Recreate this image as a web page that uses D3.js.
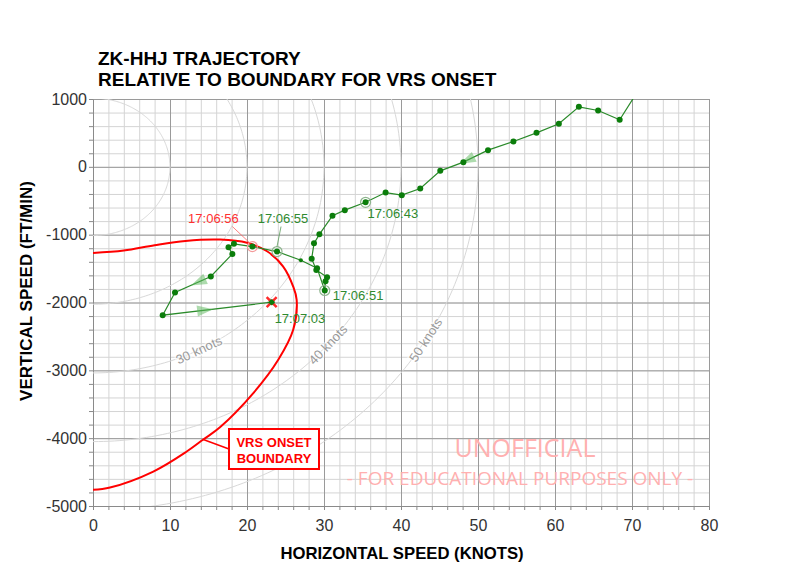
<!DOCTYPE html>
<html>
<head>
<meta charset="utf-8">
<script src="https://cdn.jsdelivr.net/npm/d3@7"></script>
<style>
    body { margin: 0; background: #fff; }
    svg { display: block; font-family: "Liberation Sans", Arial, sans-serif; }
    .grid-minor line { stroke: #d4d4d4; }
    .grid-major line { stroke: #9a9a9a; }
    .grid-minor path, .grid-major path { display: none; }
    .axis path, .axis line { stroke: #8a8a8a; }
    .axis text { fill: #333; font-size: 16px; }
</style>
</head>
<body>
<svg id="chart" width="800" height="574"></svg>
<script>
// horizontal speed (knots) and vertical speed (ft/min), in time order
var trajKts = [71.5, 68.4, 65.6, 63.1, 60.5, 57.6, 54.6, 51.3, 48.1, 45.1, 42.5, 40.1, 38.0, 35.4,
    32.7, 31.1, 29.4, 28.7, 28.4, 29.0, 30.4, 30.2, 30.1, 29.1, 27.0, 23.9, 20.7, 18.3, 17.6,
    18.1, 15.3, 10.65, 9.05, 23.2];
var trajFpm = [1250, 693, 830, 885, 634, 501, 374, 246, 69, -59, -320, -418, -379, -523,
    -639, -720, -995, -1128, -1355, -1520, -1627, -1688, -1823, -1494, -1378, -1249, -1175, -1135, -1187,
    -1285, -1617, -1853, -2187, -1995];
var smallPoints = [24];

var timeLabels = ['17:06:43', '17:06:51', '17:06:55', '17:06:56', '17:07:03'];
var timeIndex = [13, 22, 25, 26, 33];

// direction arrows: segment start index and fraction along it
var arrowSeg = [7, 30, 32];
var arrowFrac = [0.85, 0.35, 0.39];

// VRS onset boundary
var vrsKts = [0, 4, 8, 12, 16.5, 20, 22.6, 24.7, 26, 26.45, 26.0, 24.06, 20.82, 16.49, 14.32, 12.17, 7.83, 2.21, 0];
var vrsFpm = [-1270, -1235, -1155, -1092, -1073, -1120, -1245, -1470, -1765, -1961, -2403, -2845, -3336,
    -3840, -4020, -4197, -4492, -4728, -4762];

// total airspeed circles
var circleKts = [10, 20, 30, 40, 50];
var circleLabelFpm = [null, null, -2700, -2620, -2550];

var xTicks = [0, 10, 20, 30, 40, 50, 60, 70, 80];
var yTicks = [1000, 0, -1000, -2000, -3000, -4000, -5000];

var FPM_PER_KT = 101.27;

var svg = d3.select('#chart');
var x = d3.scaleLinear().domain([0, 80]).range([93, 709]);
var y = d3.scaleLinear().domain([-5000, 1000]).range([506, 99]);
var plotH = 506 - 99, plotW = 709 - 93;

svg.append('defs').append('clipPath').attr('id', 'plot')
    .append('rect').attr('x', 93).attr('y', 99).attr('width', plotW).attr('height', plotH);

// grid
svg.append('g').attr('class', 'grid-minor').attr('transform', 'translate(0,506)')
    .call(d3.axisBottom(x).tickValues(d3.range(0, 81, 2)).tickSize(-plotH).tickFormat(''));
svg.append('g').attr('class', 'grid-minor').attr('transform', 'translate(93,0)')
    .call(d3.axisLeft(y).tickValues(d3.range(-5000, 1001, 200)).tickSize(-plotW).tickFormat(''));
svg.append('g').attr('class', 'grid-major').attr('transform', 'translate(0,506)')
    .call(d3.axisBottom(x).tickValues(xTicks).tickSize(-plotH).tickFormat(''));
svg.append('g').attr('class', 'grid-major').attr('transform', 'translate(93,0)')
    .call(d3.axisLeft(y).tickValues(yTicks).tickSize(-plotW).tickFormat(''));

// axes
svg.append('g').attr('class', 'axis').attr('transform', 'translate(0,506)')
    .call(d3.axisBottom(x).tickValues(d3.range(0, 81, 2)).tickSize(4).tickSizeOuter(0)
        .tickFormat(function(d) { return d % 10 === 0 ? d : ''; }))
    .selectAll('text').attr('dy', '1.1em');
svg.append('g').attr('class', 'axis').attr('transform', 'translate(93,0)')
    .call(d3.axisLeft(y).tickValues(d3.range(-5000, 1001, 200)).tickSize(4).tickSizeOuter(0)
        .tickFormat(function(d) { return d % 1000 === 0 ? d : ''; }))
    .selectAll('text').attr('x', -6);

var plot = svg.append('g').attr('clip-path', 'url(#plot)');

// speed circles
var angles = d3.range(-90, 90.5, 1).map(function(a) { return a * Math.PI / 180; });
circleKts.forEach(function(r, i) {
    plot.append('path')
        .attr('fill', 'none').attr('stroke', '#d8d8d8').attr('stroke-width', 1)
        .attr('d', d3.line()
            .x(function(a) { return x(r * Math.cos(a)); })
            .y(function(a) { return y(r * Math.sin(a) * FPM_PER_KT); })(angles));
    if (circleLabelFpm[i] !== null) {
        var vk = circleLabelFpm[i] / FPM_PER_KT;
        var hk = Math.sqrt(r * r - vk * vk);
        var a = Math.atan2(vk, hk);
        var kx = x(1) - x(0), ky = y(0) - y(FPM_PER_KT);
        var rot = Math.atan2(-Math.cos(a) * ky, -Math.sin(a) * kx) * 180 / Math.PI;
        if (rot > 90) rot -= 180;
        if (rot < -90) rot += 180;
        plot.append('text')
            .attr('transform', 'translate(' + x(hk) + ',' + y(circleLabelFpm[i]) + ')rotate(' + rot + ')')
            .attr('text-anchor', 'middle').attr('dy', '0.35em')
            .attr('fill', '#9a9a9a').style('font-size', '13px')
            .style('paint-order', 'stroke').attr('stroke', 'rgba(255,255,255,0.6)').attr('stroke-width', 3)
            .text(r + ' knots');
    }
});

// VRS boundary
plot.append('path')
    .attr('fill', 'none').attr('stroke', '#ff0000').attr('stroke-width', 2)
    .attr('d', d3.line().curve(d3.curveCatmullRom.alpha(0.5))
        .x(function(d, i) { return x(vrsKts[i]); })
        .y(function(d, i) { return y(vrsFpm[i]); })(vrsKts));

// boundary callout
var ci = 14;
svg.append('line')
    .attr('x1', x(vrsKts[ci])).attr('y1', y(vrsFpm[ci]))
    .attr('x2', 229).attr('y2', 449)
    .attr('stroke', '#ff0000').attr('stroke-width', 1.5);
svg.append('rect').attr('x', 229).attr('y', 429).attr('width', 90).attr('height', 40)
    .attr('fill', '#fff').attr('stroke', '#ff0000').attr('stroke-width', 2);
svg.append('text').attr('x', 274).attr('y', 447).attr('text-anchor', 'middle')
    .attr('fill', '#ff0000').style('font-size', '13px').style('font-weight', 'bold').text('VRS ONSET');
svg.append('text').attr('x', 274).attr('y', 463).attr('text-anchor', 'middle')
    .attr('fill', '#ff0000').style('font-size', '13px').style('font-weight', 'bold').text('BOUNDARY');

// watermark
svg.append('text').attr('x', 525).attr('y', 457).attr('text-anchor', 'middle')
    .attr('fill', '#ffb0b0').style('font-family', '"Open Sans", sans-serif')
    .style('font-size', '25px').text('UNOFFICIAL');
svg.append('text').attr('x', 520).attr('y', 485).attr('text-anchor', 'middle')
    .attr('fill', '#ffb0b0').style('font-family', '"Open Sans", sans-serif')
    .style('font-size', '19px').text('- FOR EDUCATIONAL PURPOSES ONLY -');

// trajectory
var idx = d3.range(trajKts.length);
plot.append('path')
    .attr('fill', 'none').attr('stroke', '#2a8a2a').attr('stroke-width', 1.2)
    .attr('d', d3.line()
        .x(function(i) { return x(trajKts[i]); })
        .y(function(i) { return y(trajFpm[i]); })(idx));

arrowSeg.forEach(function(s, k) {
    var x0 = x(trajKts[s]), y0 = y(trajFpm[s]);
    var x1 = x(trajKts[s + 1]), y1 = y(trajFpm[s + 1]);
    var t = arrowFrac[k];
    var ang = Math.atan2(y1 - y0, x1 - x0) * 180 / Math.PI;
    plot.append('path')
        .attr('d', 'M8,0L-8,-5.5L-8,5.5Z')
        .attr('transform', 'translate(' + (x0 + (x1 - x0) * t) + ',' + (y0 + (y1 - y0) * t) + ')rotate(' + ang + ')')
        .attr('fill', '#5cb85c').attr('fill-opacity', 0.5);
});

// highlight rings
timeIndex.forEach(function(i, k) {
    if (timeLabels[k] === '17:07:03') return;
    plot.append('circle')
        .attr('cx', x(trajKts[i])).attr('cy', y(trajFpm[i])).attr('r', 5)
        .attr('fill', 'none')
        .attr('stroke', timeLabels[k] === '17:06:56' ? '#f49a9a' : '#8fb58f')
        .attr('stroke-width', 1.2);
});

plot.selectAll('.pt')
    .data(idx.slice(1))
  .enter().append('circle')
    .attr('class', 'pt')
    .attr('cx', function(i) { return x(trajKts[i]); })
    .attr('cy', function(i) { return y(trajFpm[i]); })
    .attr('r', function(i) { return smallPoints.indexOf(i) >= 0 ? 2 : 3; })
    .attr('fill', '#0b7d0b');

// end marker
var last = timeIndex[timeIndex.length - 1];
var ex = x(trajKts[last]), ey = y(trajFpm[last]);
plot.append('path')
    .attr('d', 'M-5,-5L5,5M-5,5L5,-5')
    .attr('transform', 'translate(' + ex + ',' + ey + ')')
    .attr('stroke', '#ff2a2a').attr('stroke-width', 2.5);
plot.append('circle').attr('cx', ex).attr('cy', ey).attr('r', 2.5).attr('fill', '#0b7d0b');

// time labels
var labelDx = [2, 8, 6, -39, 3];
var labelDy = [16, 10, -29, -24, 21];
var labelAnchor = ['start', 'start', 'middle', 'middle', 'start'];
timeIndex.forEach(function(i, k) {
    var px = x(trajKts[i]), py = y(trajFpm[i]);
    var col = timeLabels[k] === '17:06:56' ? '#ff3030' : '#2f8a2f';
    svg.append('text')
        .attr('x', px + labelDx[k]).attr('y', py + labelDy[k])
        .attr('text-anchor', labelAnchor[k])
        .attr('fill', col).style('font-size', '13px')
        .text(timeLabels[k]);
    if (labelAnchor[k] === 'middle') {
        svg.append('line')
            .attr('x1', px + labelDx[k] - (k === 3 ? -19 : 2)).attr('y1', py + labelDy[k] + 4)
            .attr('x2', px + (k === 3 ? -2 : 0)).attr('y2', py - (k === 3 ? 3 : 5))
            .attr('stroke', k === 3 ? '#ff6060' : '#5a9a5a').attr('stroke-width', 0.8);
    }
});

// titles
svg.append('text').attr('x', 98).attr('y', 65)
    .style('font-size', '19px').style('font-weight', 'bold').text('ZK-HHJ TRAJECTORY');
svg.append('text').attr('x', 98).attr('y', 86)
    .style('font-size', '19px').style('font-weight', 'bold').text('RELATIVE TO BOUNDARY FOR VRS ONSET');
svg.append('text').attr('x', 402).attr('y', 559).attr('text-anchor', 'middle')
    .style('font-size', '16.7px').style('font-weight', 'bold').text('HORIZONTAL SPEED (KNOTS)');
svg.append('text').attr('transform', 'translate(32,291)rotate(-90)').attr('text-anchor', 'middle')
    .style('font-size', '17px').style('font-weight', 'bold').text('VERTICAL SPEED (FT/MIN)');
</script>
</body>
</html>
